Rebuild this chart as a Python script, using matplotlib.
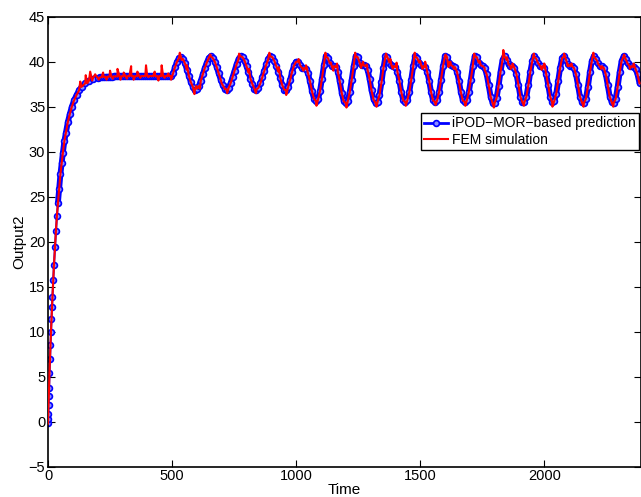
import numpy as np
import matplotlib
matplotlib.use("Agg")
import matplotlib.pyplot as plt
from matplotlib.lines import Line2D

# ---------------- data ----------------
rise_time = [0, 0.5, 1, 2, 3, 4, 6, 8, 10, 12, 14, 16, 18, 21, 24, 28, 32, 36, 40,
             45, 50, 55, 60, 66, 72, 80, 88, 96, 105, 115, 125, 135, 150, 165, 180, 200]
rise_values = [-0.2, 0.3, 0.9, 1.9, 2.8, 3.7, 5.4, 7.0, 8.5, 10.0, 11.4, 12.7, 13.9,
               15.7, 17.4, 19.4, 21.2, 22.9, 24.3, 25.9, 27.5, 28.7, 29.9, 31.2, 32.1,
               33.3, 34.2, 35.0, 35.7, 36.3, 36.8, 37.2, 37.6, 37.9, 38.1, 38.2]

later_time = list(range(208, 2392, 8))
later_values = [
    # plateau 208-496
    38.25, 38.28, 38.30, 38.32, 38.33, 38.34, 38.35, 38.36, 38.37, 38.37,
    38.38, 38.38, 38.39, 38.39, 38.40, 38.40, 38.40, 38.40, 38.40, 38.40,
    38.40, 38.40, 38.40, 38.40, 38.40, 38.40, 38.40, 38.40, 38.40, 38.40,
    38.40, 38.40, 38.40, 38.40, 38.40, 38.40, 38.40,
    # 504-992
    38.7, 39.4, 40.0, 40.4, 40.5, 40.3, 39.8, 39.1, 38.4, 37.7,
    37.2, 36.9, 37.0, 37.3, 37.9, 38.6, 39.3, 39.9, 40.4, 40.6,
    40.4, 40.0, 39.4, 38.7, 38.0, 37.4, 37.0, 36.9, 37.1, 37.6,
    38.3, 39.0, 39.7, 40.3, 40.6, 40.5, 40.1, 39.5, 38.8, 38.1,
    37.5, 37.0, 36.9, 37.1, 37.6, 38.3, 39.0, 39.7, 40.3, 40.6,
    40.5, 40.1, 39.5, 38.9, 38.2, 37.4, 36.9, 36.8, 37.2, 38.0,
    38.9, 39.6,
    # 1000-2384
    40.0, 40.0, 39.6, 39.3, 39.3, 39.2, 38.7, 37.8, 36.7, 35.9,
    35.6, 35.8, 36.7, 38.1, 39.6, 40.6, 40.4, 39.8, 39.5, 39.5,
    39.4, 38.9, 37.8, 36.5, 35.6, 35.4, 35.6, 36.6, 38.0, 39.5,
    40.6, 40.5, 39.9, 39.6, 39.6, 39.5, 39.1, 38.1, 36.8, 35.8,
    35.4, 35.5, 36.3, 37.7, 39.3, 40.6, 40.5, 39.9, 39.6, 39.5,
    39.4, 38.9, 37.9, 36.6, 35.7, 35.5, 35.7, 36.6, 38.0, 39.5,
    40.6, 40.4, 39.9, 39.6, 39.5, 39.4, 38.9, 37.9, 36.6, 35.7,
    35.5, 35.7, 36.6, 38.0, 39.5, 40.6, 40.5, 39.9, 39.6, 39.5,
    39.4, 38.9, 37.9, 36.6, 35.7, 35.5, 35.7, 36.6, 38.0, 39.5,
    40.6, 40.5, 39.9, 39.6, 39.5, 39.3, 38.6, 37.4, 36.1, 35.4,
    35.4, 36.0, 37.3, 38.9, 40.2, 40.6, 40.2, 39.7, 39.5, 39.5,
    39.3, 38.6, 37.4, 36.1, 35.5, 35.5, 36.1, 37.4, 38.9, 40.1,
    40.6, 40.3, 39.8, 39.5, 39.5, 39.3, 38.6, 37.4, 36.1, 35.5,
    35.6, 36.4, 37.8, 39.3, 40.4, 40.6, 40.2, 39.7, 39.5, 39.5,
    39.3, 38.6, 37.4, 36.1, 35.5, 35.4, 35.9, 37.2, 38.8, 40.1,
    40.6, 40.3, 39.8, 39.5, 39.5, 39.3, 38.6, 37.4, 36.1, 35.5,
    35.4, 35.9, 37.2, 38.8, 40.1, 40.6, 40.3, 39.8, 39.5, 39.5,
    39.4, 39.2, 38.6, 37.6,
]

# FEM simulation: deviations (spikes)
fem_spike_time = [130, 152, 158, 170, 178, 190, 205, 222, 236, 250, 262, 280, 292, 305,
                  318, 335, 345, 360, 372, 395, 405, 430, 445, 458, 470, 485, 496,
                  531, 538, 560, 590, 597, 612, 654, 700, 722, 770, 810, 838, 892, 930,
                  960, 1010, 1030, 1040, 1082, 1118, 1140, 1150, 1165, 1203, 1238, 1262,
                  1270, 1285, 1324, 1362, 1380, 1390, 1405, 1442, 1478, 1500, 1510, 1520,
                  1562, 1602, 1614, 1622, 1635, 1682, 1718, 1740, 1760, 1797, 1835, 1850,
                  1865, 1872, 1918, 1958, 1990, 2000, 2033, 2080, 2095, 2110, 2158, 2198,
                  2215, 2230, 2278, 2322, 2345, 2360]
fem_spike_values = [37.8, 38.5, 37.6, 38.9, 37.9, 38.6, 38.0, 38.8, 38.0, 39.0, 38.1, 39.2,
                    38.0, 38.8, 38.1, 39.5, 38.0, 38.9, 38.2, 39.6, 38.3, 38.9, 37.9, 39.6,
                    38.2, 38.7, 38.0,
                    41.0, 40.2, 39.6, 36.4, 37.3, 37.0, 40.8, 37.6, 36.5, 40.9, 39.2, 36.5,
                    41.0, 39.4, 36.3, 40.3, 39.0, 39.6, 35.1, 41.0, 39.9, 39.0, 39.8, 34.9,
                    41.0, 39.3, 40.0, 39.7, 35.0, 40.9, 40.3, 39.2, 39.9, 35.1, 41.0, 40.1,
                    39.2, 40.0, 35.2, 40.8, 39.4, 40.0, 39.2, 35.1, 40.9, 40.1, 39.1, 34.9,
                    41.3, 40.5, 39.2, 39.8, 35.1, 40.9, 39.1, 39.8, 35.0, 40.9, 39.5, 39.8,
                    35.0, 41.0, 40.0, 39.2, 35.0, 40.8, 39.2, 39.8]

xticks = [0, 500, 1000, 1500, 2000]
yticks = list(range(-5, 50, 5))

# ---------------- assemble series ----------------
pred_t = np.array(rise_time + later_time, dtype=float)
pred_y = np.array(rise_values + later_values, dtype=float)

fem_t_all = np.concatenate([pred_t, np.array(fem_spike_time, dtype=float)])
fem_y_all = np.concatenate([pred_y, np.array(fem_spike_values, dtype=float)])
order = np.argsort(fem_t_all, kind="stable")
fem_t = fem_t_all[order]
fem_y = fem_y_all[order]

# ---------------- plot ----------------
plt.rcParams['font.family'] = ['Liberation Sans', 'DejaVu Sans']
fig = plt.figure(figsize=(6.41, 4.97), dpi=100)
ax = fig.add_axes([0.0749, 0.061, 0.9251, 0.9054])

blue = (0, 0, 1)
red = (1, 0, 0)
marker_face = (0.55, 0.55, 1.0)

# thin connecting line over the whole prediction
ax.plot(pred_t, pred_y, color=blue, lw=1.5, zorder=2)
# dense part of the prediction band (many overlapping samples)
dense = pred_t >= 40
ax.plot(pred_t[dense], pred_y[dense], color=blue, lw=4.2, solid_capstyle='round',
        solid_joinstyle='round', zorder=2)
ax.plot(pred_t, pred_y, linestyle='none', marker='o', markersize=4.2,
        markerfacecolor=marker_face, markeredgewidth=1.2, markeredgecolor=blue,
        zorder=2)
ax.plot(fem_t, fem_y, color=red, lw=1.5, zorder=3)

ax.set_xlim(0, 2390)
ax.set_ylim(-5, 45)
ax.set_xticks(xticks)
ax.set_yticks(yticks)
ax.set_yticklabels([str(v).replace('-', '\u2212') for v in yticks])
ax.tick_params(direction='in', length=5, width=0.8, top=True, right=True,
               labelsize=10.5, pad=2)
for s in ax.spines.values():
    s.set_linewidth(1.2)

ax.set_xlabel('Time', fontsize=11, labelpad=0)
ax.set_ylabel('Output2', fontsize=11, labelpad=2)

handles = [
    Line2D([], [], color=blue, lw=2.0, marker='o', markersize=4.2,
           markerfacecolor=marker_face, markeredgewidth=1.2, markeredgecolor=blue),
    Line2D([], [], color=red, lw=1.5),
]
labels = ['iPOD\u2212MOR\u2212based prediction', 'FEM simulation']
leg = ax.legend(handles, labels, loc='upper right', bbox_to_anchor=(0.997, 0.786),
                fontsize=10, frameon=True, fancybox=False, shadow=False, framealpha=1,
                edgecolor='black', handlelength=1.7, handletextpad=0.3,
                borderpad=0.25, labelspacing=0.15, borderaxespad=0)
leg.get_frame().set_linewidth(1.0)

fig.savefig('out.png', dpi=100)
